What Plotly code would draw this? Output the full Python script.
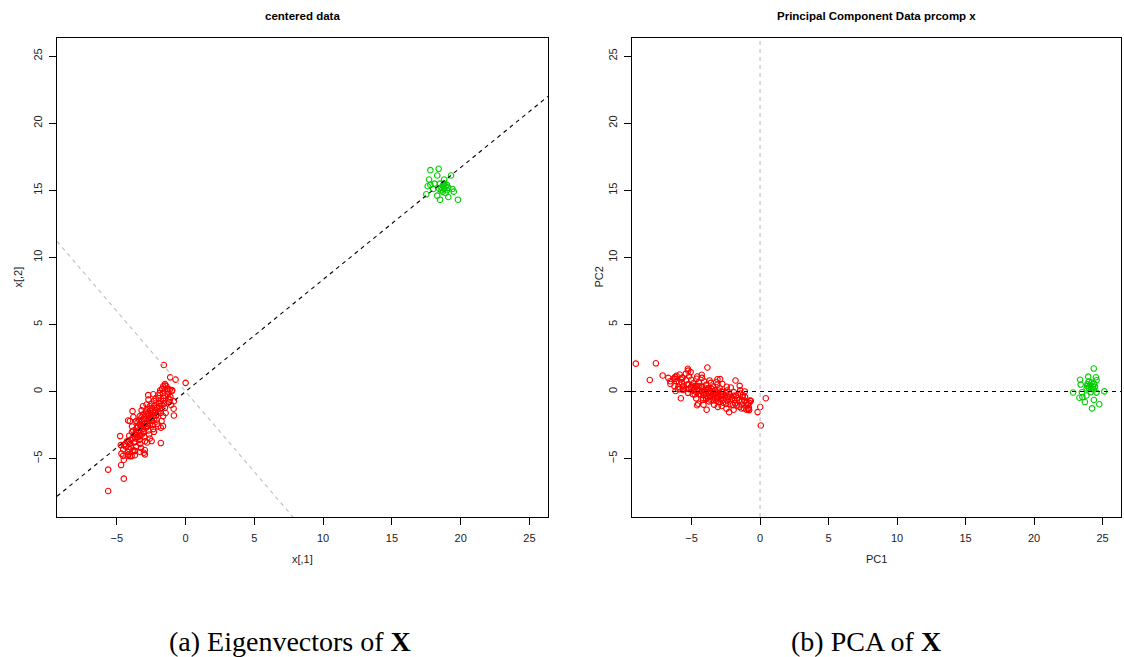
import numpy as np
import plotly.graph_objects as go

# ---------------- data ----------------
# centered data, group 1 (red): (x[,1], x[,2])
red_points = [
    (-1.58, 1.98), (-1.12, 1.06), (-0.73, 0.89), (0.0, 0.65), (-5.63, -5.82), (-4.49, -6.49),
    (-5.63, -7.41), (-0.85, -1.78), (-0.87, -1.28), (-1.8, -3.84), (-3.86, -1.46), (-4.76, -3.32),
    (-4.66, -4.63), (-4.49, -5.08), (-4.69, -5.48), (-0.85, -0.72), (-1.14, 0.15), (-1.0, 0.05),
    (-1.63, 0.39), (-1.5, 0.55), (-2.72, -0.27), (-2.84, -0.97), (-4.05, -2.2), (-4.18, -2.16),
    (-3.33, -1.83), (-2.96, -4.68), (-3.69, -4.44), (-3.93, -4.81), (-4.17, -4.7), (-4.54, -4.31),
    (-4.71, -3.99), (-4.49, -4.0), (-4.05, -4.81), (-3.69, -4.74), (-3.03, -4.56), (-2.96, -4.36),
    (-2.47, -3.69), (-1.8, -2.7), (-1.64, -2.58), (-1.64, -1.83), (-1.14, -0.6), (-0.97, 0.1),
    (-1.26, 0.15),
    (-4.35, -4.1), (-4.2, -4.5), (-4.4, -3.9), (-4.1, -4.3), (-4.25, -3.7),
    (-4.0, -3.6), (-3.95, -4.2), (-4.1, -3.3), (-3.85, -4.4), (-4.05, -3.9), (-3.9, -3.0),
    (-3.7, -3.2), (-3.75, -3.8), (-3.6, -4.1), (-3.8, -2.9), (-3.65, -3.5), (-3.55, -2.7),
    (-3.72, -4.4), (-3.62, -3.0),
    (-3.4, -3.1), (-3.45, -2.6), (-3.35, -3.6), (-3.5, -2.3), (-3.3, -3.9), (-3.42, -2.9),
    (-3.28, -3.3), (-3.5, -3.4), (-3.38, -2.1), (-3.25, -4.2),
    (-3.1, -2.6), (-3.15, -2.2), (-3.05, -3.0), (-3.2, -1.9), (-3.0, -3.4), (-3.12, -2.8),
    (-2.98, -2.4), (-3.18, -3.2), (-3.08, -1.7), (-2.95, -3.7), (-3.22, -2.5),
    (-2.8, -2.2), (-2.85, -1.8), (-2.75, -2.6), (-2.9, -1.5), (-2.7, -2.9), (-2.82, -2.4),
    (-2.68, -2.0), (-2.88, -2.7), (-2.78, -1.3), (-2.65, -3.2), (-2.92, -2.05), (-2.72, -1.6),
    (-2.5, -1.8), (-2.55, -1.4), (-2.45, -2.2), (-2.6, -1.1), (-2.4, -2.5), (-2.52, -2.0),
    (-2.38, -1.6), (-2.58, -2.4), (-2.48, -0.9), (-2.35, -2.8), (-2.62, -1.7),
    (-2.2, -1.4), (-2.25, -1.0), (-2.15, -1.8), (-2.3, -0.7), (-2.1, -2.1), (-2.22, -1.6),
    (-2.08, -1.2), (-2.28, -2.0), (-2.18, -0.5), (-2.05, -2.4),
    (-1.9, -0.9), (-1.95, -0.5), (-1.85, -1.3), (-2.0, -0.3), (-1.8, -1.6), (-1.92, -1.1),
    (-1.78, -0.7), (-1.98, -1.5), (-1.88, -0.1),
    (-1.6, -0.5), (-1.65, -0.1), (-1.55, -0.9), (-1.7, 0.2), (-1.5, -1.2), (-1.62, -0.7),
    (-1.48, -0.3), (-1.68, -1.0),
    (-1.3, -0.2), (-1.35, 0.2), (-1.25, -0.5), (-1.4, 0.4), (-1.2, -0.8), (-1.32, 0.0),
    (-3.55, -3.25), (-3.25, -2.75), (-2.95, -2.35), (-2.65, -1.95), (-2.35, -1.55), (-2.05, -1.15),
    (-3.35, -2.45), (-3.05, -2.05), (-2.75, -1.65), (-2.45, -1.25), (-3.65, -3.75), (-3.35, -3.35),
    (-3.05, -2.95), (-2.75, -2.55), (-2.45, -2.15), (-2.15, -1.75), (-3.85, -3.45), (-4.15, -3.75),
    (-2.6, -3.5), (-2.3, -3.0), (-2.0, -2.6), (-3.9, -2.6), (-3.6, -2.2), (-3.2, -1.4),
    (-1.75, -2.2), (-1.45, -1.6), (-4.55, -4.8), (-4.2, -4.8), (-3.3, -4.5), (-2.8, -3.8),
    (-1.5, 0.45), (-1.85, 0.1), (-1.1, -0.4), (-1.05, -1.0), (-2.35, -0.2), (-2.7, -0.6),
    (-3.1, -1.1), (-3.8, -1.9),
]

# centered data, group 2 (green)
green_points = [
    (17.8, 16.5), (18.4, 16.6), (18.3, 16.1), (19.3, 16.1), (17.7, 15.8), (18.8, 15.8),
    (18.1, 15.5), (18.5, 15.5), (17.6, 15.3), (17.8, 15.4), (18.6, 15.2), (18.8, 15.1),
    (18.9, 15.3), (19.0, 15.0), (18.7, 14.9), (18.9, 14.8), (19.1, 15.2), (18.6, 15.0),
    (18.8, 15.5), (17.5, 14.7), (18.3, 14.6), (19.5, 14.9), (19.8, 14.3), (18.5, 14.3),
    (19.1, 14.5), (19.4, 15.1), (18.0, 15.1), (18.7, 15.35), (19.0, 15.4), (18.45, 15.1),
]

tick_vals = [-5, 0, 5, 10, 15, 20, 25]
axis_range = [-9.35, 26.35]

titles = ["centered data", "Principal Component Data prcomp x"]
x_labels = ["x[,1]", "PC1"]
y_labels = ["x[,2]", "PC2"]
captions = ["(a) Eigenvectors of <b>X</b>", "(b) PCA of <b>X</b>"]

# ---------------- PCA (as prcomp; data are already centered) ----------------
red_x, red_y = [list(v) for v in zip(*red_points)]
green_x, green_y = [list(v) for v in zip(*green_points)]
X = np.array(red_points + green_points, dtype=float)
vals, vecs = np.linalg.eigh(np.cov(X.T))
order = np.argsort(vals)[::-1]
v1 = vecs[:, order[0]]
v2 = vecs[:, order[1]]
if v1[0] < 0:
    v1 = -v1
if v2[0] < 0:
    v2 = -v2
scores = X @ np.column_stack([v1, v2])
n_red = len(red_points)
pc_red = scores[:n_red]
pc_green = scores[n_red:]
slope1 = v1[1] / v1[0]
slope2 = v2[1] / v2[0]

RED = "#FF0000"
GREEN = "#00CD00"
GRAY = "#BEBEBE"
FONT = "Liberation Sans, Arial, sans-serif"

fig = go.Figure()

def pts(x, y, color, xa, ya):
    return go.Scatter(x=x, y=y, mode="markers", xaxis=xa, yaxis=ya, showlegend=False,
                      hoverinfo="skip",
                      marker=dict(symbol="circle-open", size=5.5, color=color,
                                  line=dict(width=1.1, color=color)))

def line(x, y, color, xa, ya):
    return go.Scatter(x=x, y=y, mode="lines", xaxis=xa, yaxis=ya, showlegend=False,
                      hoverinfo="skip", line=dict(color=color, width=1.1, dash="4px,4px"))

# left panel
fig.add_trace(pts(red_x, red_y, RED, "x", "y"))
fig.add_trace(pts(green_x, green_y, GREEN, "x", "y"))
lx = np.array(axis_range)
fig.add_trace(line(lx, slope2 * lx, GRAY, "x", "y"))
fig.add_trace(line(lx, slope1 * lx, "black", "x", "y"))

# right panel
fig.add_trace(pts(pc_red[:, 0], pc_red[:, 1], RED, "x2", "y2"))
fig.add_trace(pts(pc_green[:, 0], pc_green[:, 1], GREEN, "x2", "y2"))
fig.add_trace(line([0, 0], axis_range, GRAY, "x2", "y2"))
fig.add_trace(line(axis_range, [0, 0], "black", "x2", "y2"))

W, H = 1124, 657
left_dom = [57 / W, 548 / W]
right_dom = [632 / W, 1121 / W]
y_dom = [1 - 517 / H, 1 - 38 / H]

def xax(dom, anchor):
    return dict(domain=dom, anchor=anchor, range=axis_range, tickvals=tick_vals,
                showgrid=False, zeroline=False, showline=True, mirror=True,
                linecolor="black", linewidth=1, ticks="outside", ticklen=7,
                tickcolor="black", tickwidth=1, ticklabelstandoff=4,
                tickfont=dict(family=FONT, size=11, color="#222"))

def yax(anchor):
    d = xax(y_dom, anchor)
    d["tickangle"] = -90
    d["ticklabelstandoff"] = 3
    return d

fig.update_layout(
    width=W, height=H,
    margin=dict(l=0, r=0, t=0, b=0),
    paper_bgcolor="white", plot_bgcolor="white",
    xaxis=xax(left_dom, "y"), yaxis=yax("x"),
    xaxis2=xax(right_dom, "y2"), yaxis2=yax("x2"),
)

ann = []
centers = [(left_dom[0] + left_dom[1]) / 2, (right_dom[0] + right_dom[1]) / 2]
ylab_x = [17 / W, 598 / W]
cap_x = [290 / W, 866 / W]
for i in range(2):
    ann.append(dict(text="<b>%s</b>" % titles[i], x=centers[i], y=1 - 16 / H, xref="paper",
                    yref="paper", showarrow=False, xanchor="center", yanchor="middle",
                    font=dict(family=FONT, size=11.5, color="black")))
    ann.append(dict(text=x_labels[i], x=centers[i], y=1 - 559 / H, xref="paper", yref="paper",
                    showarrow=False, xanchor="center", yanchor="middle",
                    font=dict(family=FONT, size=11, color="#222")))
    ann.append(dict(text=y_labels[i], x=ylab_x[i], y=(y_dom[0] + y_dom[1]) / 2, xref="paper",
                    yref="paper", showarrow=False, xanchor="center", yanchor="middle",
                    textangle=-90, font=dict(family=FONT, size=11, color="#222")))
    ann.append(dict(text=captions[i], x=cap_x[i], y=1 - 641 / H, xref="paper", yref="paper",
                    showarrow=False, xanchor="center", yanchor="middle",
                    font=dict(family="Liberation Serif, Times New Roman, serif", size=28,
                              color="black")))
fig.update_layout(annotations=ann)

fig.write_html("out.html")
